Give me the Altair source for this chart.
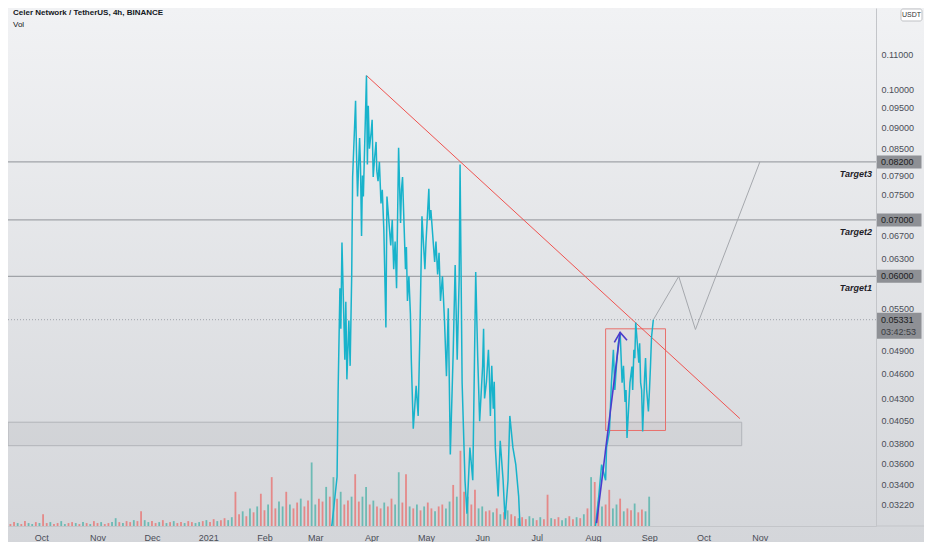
import altair as alt
import pandas as pd

TITLE = "Celer Network / TetherUS, 4h, BINANCE"
SUBTITLE = "Vol"
UNIT = "USDT"

# ---- price line (4h close) ----
price_dates = [
    "2020-09-13T00:00", "2020-10-15T00:00", "2020-11-20T00:00", "2020-12-20T00:00",
    "2021-01-15T00:00", "2021-02-05T00:00", "2021-02-20T00:00", "2021-03-01T00:00",
    "2021-03-06T00:00",
    "2021-03-10T07:00", "2021-03-13T00:00", "2021-03-13T14:00", "2021-03-14T14:00",
    "2021-03-15T17:00", "2021-03-17T07:00", "2021-03-18T10:00", "2021-03-19T12:00",
    "2021-03-21T02:00", "2021-03-21T14:00", "2021-03-23T05:00", "2021-03-24T07:00",
    "2021-03-25T10:00", "2021-03-26T12:00", "2021-03-27T12:00", "2021-03-29T05:00",
    "2021-03-29T17:00", "2021-03-30T05:00", "2021-03-31T19:00", "2021-04-01T22:00",
    "2021-04-03T12:00", "2021-04-04T14:00", "2021-04-06T05:00", "2021-04-07T19:00",
    "2021-04-08T22:00", "2021-04-09T12:00", "2021-04-11T14:00", "2021-04-13T05:00",
    "2021-04-14T19:00", "2021-04-15T22:00", "2021-04-17T00:00", "2021-04-18T02:00",
    "2021-04-19T17:00", "2021-04-20T19:00", "2021-04-22T10:00", "2021-04-22T22:00",
    "2021-04-24T00:00", "2021-04-25T14:00", "2021-04-26T17:00", "2021-04-27T17:00",
    "2021-04-28T19:00", "2021-04-30T10:00", "2021-05-01T00:00", "2021-05-02T14:00",
    "2021-05-03T17:00", "2021-05-05T19:00", "2021-05-07T10:00", "2021-05-09T00:00",
    "2021-05-11T05:00", "2021-05-12T07:00", "2021-05-13T07:00", "2021-05-14T10:00",
    "2021-05-16T00:00", "2021-05-17T02:00", "2021-05-18T05:00", "2021-05-19T07:00",
    "2021-05-19T19:00", "2021-05-20T22:00", "2021-05-22T12:00", "2021-05-23T14:00",
    "2021-05-25T05:00", "2021-05-26T19:00", "2021-05-28T10:00", "2021-05-29T12:00",
    "2021-05-30T14:00", "2021-06-01T05:00", "2021-06-02T07:00", "2021-06-04T10:00",
    "2021-06-05T12:00", "2021-06-07T02:00", "2021-06-08T05:00", "2021-06-09T19:00",
    "2021-06-10T22:00", "2021-06-12T12:00", "2021-06-13T14:00", "2021-06-15T05:00",
    "2021-06-16T05:00", "2021-06-17T22:00", "2021-06-19T12:00", "2021-06-21T02:00",
    "2021-06-22T05:00",
    "2021-06-26T00:00", "2021-07-01T00:00", "2021-07-07T00:00", "2021-07-14T00:00",
    "2021-07-20T00:00", "2021-07-26T00:00", "2021-07-31T00:00",
    "2021-08-02T14:00", "2021-08-04T05:00", "2021-08-05T19:00", "2021-08-08T00:00",
    "2021-08-08T12:00", "2021-08-10T02:00", "2021-08-11T05:00", "2021-08-12T07:00",
    "2021-08-13T22:00", "2021-08-16T00:00", "2021-08-17T02:00", "2021-08-18T17:00",
    "2021-08-19T19:00", "2021-08-21T10:00", "2021-08-22T12:00", "2021-08-23T14:00",
    "2021-08-24T14:00", "2021-08-26T07:00", "2021-08-27T07:00", "2021-08-28T10:00",
    "2021-08-29T12:00", "2021-08-30T14:00", "2021-08-31T14:00", "2021-09-01T17:00",
    "2021-09-02T07:00", "2021-09-03T07:00",
]
price_values = [
    0.0045, 0.0030, 0.0028, 0.0035,
    0.0050, 0.0090, 0.0200, 0.0240,
    0.0270,
    0.0306, 0.0347, 0.0438, 0.0581,
    0.0658, 0.0478, 0.0453, 0.0532,
    0.0603, 0.0787, 0.0969, 0.0746,
    0.0875, 0.0670, 0.0746, 0.1038,
    0.0814, 0.0956, 0.0889, 0.0787,
    0.0866, 0.0778, 0.0732, 0.0681,
    0.0522, 0.0746, 0.0653, 0.0612,
    0.0581, 0.0852, 0.0694, 0.0787,
    0.0612, 0.0561, 0.0542, 0.0478,
    0.0396, 0.0445, 0.0410, 0.0522,
    0.0707, 0.0612, 0.0658, 0.0762,
    0.0719, 0.0624, 0.0603, 0.0561,
    0.0532, 0.0457, 0.0550, 0.0369,
    0.0487, 0.0619, 0.0478, 0.0596,
    0.0814, 0.0449, 0.0344, 0.0314,
    0.0376, 0.0344, 0.0607, 0.0482,
    0.0404, 0.0469, 0.0430, 0.0491,
    0.0410, 0.0418, 0.0376, 0.0329,
    0.0383, 0.0344, 0.0309, 0.0344,
    0.0410, 0.0376, 0.0359, 0.0329,
    0.0290,
    0.0275, 0.0262, 0.0250, 0.0238,
    0.0198, 0.0236, 0.0272,
    0.0306, 0.0329, 0.0359, 0.0344,
    0.0376, 0.0393, 0.0449, 0.0491,
    0.0469, 0.0515, 0.0449, 0.0426,
    0.0386, 0.0449, 0.0469, 0.0491,
    0.0529, 0.0474, 0.0449, 0.0393,
    0.0457, 0.0441, 0.0415, 0.0469,
    0.0508, 0.0533,
]
# extra swings read between the main turning points
price_extra_dates = [
    "2021-03-15T02:00", "2021-03-17T20:00", "2021-03-20T05:00", "2021-03-23T17:00",
    "2021-03-25T22:00", "2021-03-27T00:00", "2021-03-30T20:00", "2021-04-01T08:00",
    "2021-04-02T17:00", "2021-04-03T22:00", "2021-04-05T08:00", "2021-04-06T22:00",
    "2021-04-12T10:00", "2021-04-14T00:00", "2021-04-17T12:00", "2021-04-18T20:00",
    "2021-04-20T05:00", "2021-04-21T14:00", "2021-05-03T00:00", "2021-05-06T12:00",
    "2021-05-08T05:00", "2021-05-10T02:00", "2021-06-01T18:00", "2021-06-03T08:00",
    "2021-06-04T22:00", "2021-06-06T06:00", "2021-06-07T15:00", "2021-08-13T02:00",
    "2021-08-15T00:00", "2021-08-17T20:00", "2021-08-19T06:00", "2021-08-22T22:00",
    "2021-08-24T02:00", "2021-08-26T18:00", "2021-08-27T20:00", "2021-08-30T00:00",
    "2021-09-01T04:00",
]
price_extra_values = [
    0.0520, 0.0560, 0.0470, 0.0840,
    0.0810, 0.0790, 0.0850, 0.0920,
    0.0830, 0.0800, 0.0820, 0.0760,
    0.0700, 0.0660, 0.0760, 0.0700,
    0.0650, 0.0600, 0.0700, 0.0660,
    0.0640, 0.0600, 0.0520, 0.0450,
    0.0460, 0.0470, 0.0450, 0.0440,
    0.0500, 0.0470, 0.0440, 0.0440,
    0.0480, 0.0500, 0.0440, 0.0480,
    0.0440,
]

# ---- volume (2-day buckets starting 2020-09-12), arbitrary units ----
vol_start = "2020-09-12"
vol_values = [
    3, 2, 4, 3, 2, 5, 3, 2, 4, 3,
    12,
    3, 4, 2, 3, 5, 2, 3, 4, 3, 2, 4, 3, 2, 5, 3, 4, 2, 3, 4,
    8,
    4, 3, 5, 4, 6, 5,
    15,
    6, 4, 5, 3, 4, 6, 3, 4, 5, 3, 4, 3, 5, 4, 3, 4,
    5, 6, 4, 7, 5, 6, 8, 6, 9,
    35,
    12, 15, 10, 18, 14, 20,
    33,
    16, 22,
    50,
    18, 25, 20,
    35,
    22, 18, 24,
    28,
    20, 26,
    65,
    22, 28, 25,
    40,
    30,
    50,
    28, 35, 22, 26, 30,
    53,
    25, 30,
    40,
    22, 26, 20, 18, 24, 20, 28, 22,
    55,
    24,
    53,
    20, 18, 22, 16, 20, 24, 18, 15, 20, 22, 18, 25,
    42,
    30,
    77,
    35,
    30,
    22,
    37,
    18, 20, 15, 16, 14, 18, 12, 14, 16, 12,
    10, 8, 9, 7, 10, 8, 6, 9, 7,
    32,
    8, 7, 9, 6, 8, 10, 7, 9, 8, 12,
    18,
    50,
    45,
    25, 20, 22,
    37,
    18, 22,
    28,
    15, 18, 16,
    23,
    14, 17, 15,
    30,
]
vol_dirs = "uddudduududdudduuddudud"

# ---- drawings ----
target_names = ["Target3", "Target2", "Target1"]
target_prices = [0.082, 0.070, 0.060]
last_price = 0.05331
countdown = "03:42:53"

zone_dates = ["2020-09-12T16:00", "2021-10-22T00:00"]
zone_prices = [0.0378, 0.0403]

box_dates = ["2021-08-08T00:00", "2021-09-10T00:00"]
box_prices = [0.0394, 0.0520]

trend_dates = ["2021-03-29T05:00", "2021-10-21T00:00"]
trend_prices = [0.1038, 0.0407]

arrow_dates = ["2021-08-03T00:00", "2021-08-16T00:00"]
arrow_prices = [0.0306, 0.0515]
arrowhead_dates = ["2021-08-12T19:00", "2021-08-16T00:00", "2021-08-19T19:00"]
arrowhead_prices = [0.0501, 0.0515, 0.0504]

proj_dates = ["2021-09-03T07:00", "2021-09-17T07:00", "2021-09-26T12:00", "2021-11-01T00:00"]
proj_prices = [0.0533, 0.0600, 0.0519, 0.0820]

y_ticks = [0.0322, 0.034, 0.036, 0.038, 0.0405, 0.043, 0.046, 0.049, 0.055,
           0.063, 0.067, 0.075, 0.079, 0.085, 0.090, 0.095, 0.100, 0.110]
x_tick_months = [(2020, 10), (2020, 11), (2020, 12), (2021, 1), (2021, 2), (2021, 3),
                 (2021, 4), (2021, 5), (2021, 6), (2021, 7), (2021, 8), (2021, 9),
                 (2021, 10), (2021, 11)]

# ---- layout ----
W, H = 868, 518
RP, BP = 48, 16
FONT = "Liberation Sans"
LABEL_C = "#4a4d57"

xscale = alt.Scale(domain=[alt.DateTime(year=2020, month=9, date=12, hours=16),
                           alt.DateTime(year=2022, month=1, date=4)], nice=False, padding=0)
yscale = alt.Scale(type="log", domain=[0.03036, 0.1248], nice=False, padding=0)

xaxis = alt.Axis(values=[alt.DateTime(year=y, month=m, date=1) for y, m in x_tick_months],
                 labelExpr="month(datum.value) == 0 ? timeFormat(datum.value, '%Y') : timeFormat(datum.value, '%b')",
                 labelFontSize=9, labelFont=FONT, labelColor=LABEL_C, ticks=False, grid=False,
                 domainColor="#c3c5c9", labelPadding=7, zindex=1, title=None,
                 labelOverlap=False, labelFlush=False)
yaxis = alt.Axis(orient="right", values=y_ticks, format=".5f", labelFontSize=9, labelFont=FONT,
                 labelColor=LABEL_C, ticks=False, grid=False, domainColor="#c3c5c9",
                 labelPadding=5, zindex=1, title=None, labelOverlap=False)


def X(field="d"):
    return alt.X(f"{field}:T", scale=xscale, axis=xaxis)


def Y(field="p"):
    return alt.Y(f"{field}:Q", scale=yscale, axis=yaxis)


def line_df(dates, prices):
    df = pd.DataFrame({"d": pd.to_datetime(dates), "p": prices})
    df = df.sort_values("d").reset_index(drop=True)
    df["o"] = range(len(df))
    return df


# background gradient covering the whole picture
bg = alt.Chart(pd.DataFrame({"a": [0]})).mark_rect(
    fill=alt.Gradient(gradient="linear",
                      stops=[alt.GradientStop(color="#f1f2f4", offset=0),
                             alt.GradientStop(color="#d4d6da", offset=1)],
                      x1=0, x2=0, y1=0, y2=1)
).encode(x=alt.value(0), x2=alt.value(W + RP), y=alt.value(0), y2=alt.value(H + BP))

# volume bars
vol_df = pd.DataFrame({
    "d": pd.date_range(vol_start, periods=len(vol_values), freq="2D"),
    "v": vol_values,
    "dir": [vol_dirs[i % len(vol_dirs)] for i in range(len(vol_values))],
})
vol = alt.Chart(vol_df).mark_bar(size=1.8, opacity=0.6).encode(
    x=X(),
    y=alt.Y("v:Q", scale=alt.Scale(domain=[0, 530], nice=False, padding=0), axis=None),
    color=alt.Color("dir:N", scale=alt.Scale(domain=["u", "d"], range=["#26a69a", "#ef5350"]), legend=None),
)

# zone
zone_df = pd.DataFrame({"d": [pd.Timestamp(zone_dates[0])], "d2": [pd.Timestamp(zone_dates[1])],
                        "p": [zone_prices[0]], "p2": [zone_prices[1]]})
zone = alt.Chart(zone_df).mark_rect(fill="#80838c", fillOpacity=0.09, stroke="#b2b4b9", strokeWidth=1).encode(
    x=X(), x2="d2:T", y=Y(), y2="p2:Q")

# target rules and labels
tgt_df = pd.DataFrame({"name": target_names, "p": target_prices})
tgt_rules = alt.Chart(tgt_df).mark_rule(color="#a0a3a8", strokeWidth=1.4).encode(y=Y())
tgt_labels = alt.Chart(tgt_df).mark_text(
    align="right", baseline="middle", dy=12, font=FONT, fontSize=9, fontStyle="italic",
    fontWeight="bold", color="#1e2026").encode(x=alt.value(W - 4), y=Y(), text="name:N")

last_df = pd.DataFrame({"p": [last_price], "t": [f"{last_price:.5f}"], "c": [countdown]})
last_rule = alt.Chart(last_df).mark_rule(color="#9fa2aa", strokeDash=[1, 2], strokeWidth=1).encode(y=Y())

# red box
box_df = pd.DataFrame({"d": [pd.Timestamp(box_dates[0])], "d2": [pd.Timestamp(box_dates[1])],
                       "p": [box_prices[0]], "p2": [box_prices[1]]})
box = alt.Chart(box_df).mark_rect(fill="#ef5350", fillOpacity=0.03, stroke="#e8716d", strokeWidth=1).encode(
    x=X(), x2="d2:T", y=Y(), y2="p2:Q")

trend = alt.Chart(line_df(trend_dates, trend_prices)).mark_line(color="#ef5350", strokeWidth=1).encode(
    x=X(), y=Y(), order="o:Q")
proj = alt.Chart(line_df(proj_dates, proj_prices)).mark_line(color="#a5a8ad", strokeWidth=1).encode(
    x=X(), y=Y(), order="o:Q")

price = alt.Chart(line_df(price_dates + price_extra_dates, price_values + price_extra_values)).mark_line(
    color="#18b3cb", strokeWidth=1.5, clip=True).encode(x=X(), y=Y(), order="o:Q")

arrow = alt.Chart(line_df(arrow_dates, arrow_prices)).mark_line(color="#4b3ccc", strokeWidth=1.6).encode(
    x=X(), y=Y(), order="o:Q")
arrowhead = alt.Chart(line_df(arrowhead_dates, arrowhead_prices)).mark_line(
    color="#4b3ccc", strokeWidth=1.6).encode(x=X(), y=Y(), order="o:Q")

# price scale highlight boxes
hl_df = pd.DataFrame({"p": target_prices, "t": [f"{p:.5f}" for p in target_prices]})
hl_box = alt.Chart(hl_df).mark_tick(orient="horizontal", size=45, thickness=13, color="#8e9095",
                                    opacity=1).encode(x=alt.value(W + 23), y=Y())
hl_txt = alt.Chart(hl_df).mark_text(align="left", baseline="middle", font=FONT, fontSize=9,
                                    color="#1c1d21").encode(x=alt.value(W + 5), y=Y(), text="t:N")
last_box = alt.Chart(last_df).mark_tick(orient="horizontal", size=45, thickness=26, color="#8e9095",
                                        opacity=1, yOffset=6).encode(x=alt.value(W + 23), y=Y())
last_txt = alt.Chart(last_df).mark_text(align="left", baseline="middle", font=FONT, fontSize=9,
                                        color="#1c1d21").encode(x=alt.value(W + 5), y=Y(), text="t:N")
last_cd = alt.Chart(last_df).mark_text(align="left", baseline="middle", font=FONT, fontSize=9, dy=12,
                                       color="#3a3c42").encode(x=alt.value(W + 5), y=Y(), text="c:N")

price_group = alt.layer(zone, tgt_rules, last_rule, box, trend, proj, price, arrow, arrowhead,
                        tgt_labels, hl_box, hl_txt, last_box, last_txt, last_cd)

# header texts and unit box
head_df = pd.DataFrame({"t": [TITLE], "s": [SUBTITLE], "u": [UNIT]})
title = alt.Chart(head_df).mark_text(align="left", baseline="middle", font=FONT, fontSize=8,
                                     fontWeight="bold", color="#131722").encode(
    x=alt.value(5), y=alt.value(5), text="t:N")
subtitle = alt.Chart(head_df).mark_text(align="left", baseline="middle", font=FONT, fontSize=8,
                                        color="#131722").encode(x=alt.value(5), y=alt.value(17), text="s:N")
unit_box = alt.Chart(head_df).mark_rect(fill="#ffffff", stroke="#bfc1c5", strokeWidth=1, cornerRadius=2).encode(
    x=alt.value(W + 25), x2=alt.value(W + 46), y=alt.value(1), y2=alt.value(13))
unit_txt = alt.Chart(head_df).mark_text(align="center", baseline="middle", font=FONT, fontSize=7,
                                        color="#333333").encode(x=alt.value(W + 35.5), y=alt.value(7), text="u:N")
strip_rule = alt.Chart(head_df).mark_rule(color="#c3c5c9").encode(
    x=alt.value(W), x2=alt.value(W + RP), y=alt.value(H))

chart = alt.layer(bg, vol, price_group, title, subtitle, unit_box, unit_txt, strip_rule).resolve_scale(
    y="independent"
).properties(
    width=W, height=H,
    autosize=alt.AutoSizeParams(type="none"),
    padding={"left": 0, "top": 0, "right": RP, "bottom": BP},
).configure(background="#d9dbdf").configure_view(strokeWidth=0)

chart.save("out.html", embed_options={"renderer": "svg", "actions": False})
